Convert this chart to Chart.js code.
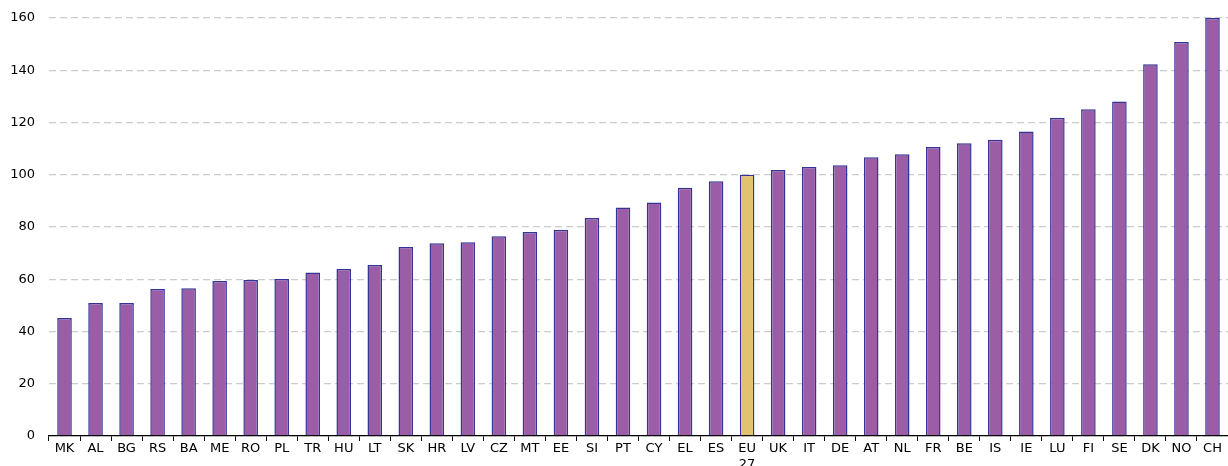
<!DOCTYPE html>
<html>
<head>
<meta charset="utf-8">
<script src="https://cdn.jsdelivr.net/npm/chart.js@4/dist/chart.umd.min.js"></script>
<style>
  html, body { margin: 0; padding: 0; background: #ffffff; }
  #wrap { width: 1228px; height: 466px; }
</style>
</head>
<body>
<div id="wrap"><canvas id="barChart" width="1228" height="466"></canvas></div>
<script>
// Country codes along the x axis
const countries = ['MK', 'AL', 'BG', 'RS', 'BA', 'ME', 'RO', 'PL', 'TR', 'HU', 'LT', 'SK', 'HR', 'LV', 'CZ', 'MT', 'EE', 'SI', 'PT', 'CY',
    'EL', 'ES', ['EU', '27'], 'UK', 'IT', 'DE', 'AT', 'NL', 'FR', 'BE', 'IS', 'IE', 'LU', 'FI', 'SE', 'DK', 'NO', 'CH'];

// Index values (EU27 = 100)
const values = [45.2, 50.9, 50.9, 56.3, 56.6, 59.3, 59.7, 60.1, 62.6, 63.9, 65.5, 72.3, 73.8, 74.2, 76.5, 78.1, 78.9, 83.4, 87.5, 89.4,
    95.0, 97.5, 100, 101.8, 103.0, 103.6, 106.7, 107.8, 110.6, 112.1, 113.4, 116.6, 121.8, 125.1, 128.0, 142.3, 150.8, 160];

const yTicks = [0, 20, 40, 60, 80, 100, 120, 140, 160];

// Colours: EU average highlighted
const barColors = countries.map(c => Array.isArray(c) ? '#e3c26f' : '#9b5da6');
const borderColors = countries.map(c => '#343496');

Chart.defaults.font.family = "'DejaVu Sans', Verdana, sans-serif";
Chart.defaults.font.size = 13;
Chart.defaults.color = '#000000';

const ctx = document.getElementById('barChart').getContext('2d');
new Chart(ctx, {
    type: 'bar',
    data: {
        labels: countries,
        datasets: [{
            data: values,
            backgroundColor: barColors,
            borderColor: borderColors,
            borderWidth: 1.5,
            barPercentage: 0.47,
            categoryPercentage: 1.0
        }]
    },
    options: {
        responsive: false,
        animation: false,
        layout: { padding: { top: 18, right: 0, left: 0, bottom: 0 } },
        plugins: {
            legend: { display: false },
            tooltip: { enabled: false }
        },
        scales: {
            x: {
                afterFit: axis => { axis.height = 30; },
                border: { display: true, color: '#000000', width: 1.3 },
                grid: {
                    display: true,
                    offset: true,
                    drawOnChartArea: false,
                    drawTicks: true,
                    tickLength: 5,
                    color: '#000000'
                },
                ticks: {
                    maxRotation: 0,
                    autoSkip: false,
                    padding: 0,
                    font: { size: 13 }
                }
            },
            y: {
                min: 0,
                max: 160,
                afterBuildTicks: axis => { axis.ticks = yTicks.map(v => ({ value: v })); },
                afterFit: axis => {
                    axis.width = 49;
                    axis.paddingTop = 0;
                    axis.paddingBottom = 0;
                },
                border: { display: false, dash: [7, 4] },
                grid: {
                    color: '#cccccc',
                    lineWidth: 1.3,
                    drawTicks: false
                },
                ticks: {
                    padding: 14,
                    font: { size: 13 }
                }
            }
        }
    }
});
</script>
</body>
</html>
